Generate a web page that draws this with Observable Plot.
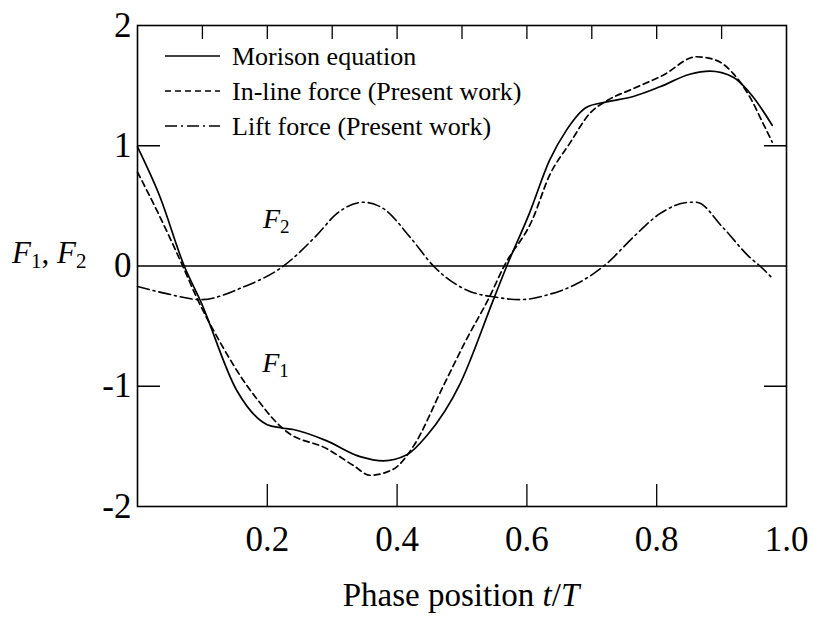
<!DOCTYPE html>
<html>
<head>
<meta charset="utf-8">
<script src="https://cdn.jsdelivr.net/npm/d3@7"></script>
<script src="https://cdn.jsdelivr.net/npm/@observablehq/plot@0.6"></script>
<style>
  body { margin: 0; background: #fff; }
  #chart svg { display: block; }
</style>
</head>
<body>
<div id="chart"></div>
<script>
// Morison equation (in-line force F1)
const morisonPhase = [0.0, 0.035, 0.072, 0.097, 0.153, 0.2, 0.22, 0.24, 0.29, 0.343, 0.379, 0.415, 0.446, 0.497, 0.548, 0.569, 0.604, 0.635, 0.661, 0.692, 0.723, 0.764, 0.805, 0.851, 0.882, 0.918, 0.948, 0.978];
const morisonForce = [0.99, 0.57, 0.0, -0.29, -1.035, -1.32, -1.345, -1.36, -1.45, -1.585, -1.62, -1.57, -1.41, -0.98, -0.286, 0.0, 0.44, 0.88, 1.13, 1.32, 1.365, 1.41, 1.49, 1.595, 1.62, 1.57, 1.41, 1.17];

// In-line force, present work (F1)
const inlinePhase = [0.0, 0.03, 0.0697, 0.091, 0.13, 0.168, 0.189, 0.207, 0.228, 0.292, 0.333, 0.358, 0.394, 0.425, 0.471, 0.505, 0.543, 0.565, 0.608, 0.635, 0.666, 0.697, 0.725, 0.764, 0.81, 0.861, 0.892, 0.918, 0.943, 0.964, 0.978];
const inlineForce = [0.78, 0.46, 0.0, -0.26, -0.66, -0.99, -1.14, -1.26, -1.37, -1.52, -1.66, -1.74, -1.69, -1.5, -1.0, -0.63, -0.25, 0.0, 0.38, 0.755, 1.02, 1.27, 1.38, 1.475, 1.587, 1.74, 1.71, 1.6, 1.41, 1.185, 1.03];

// Lift force, present work (F2)
const liftPhase = [0.0, 0.045, 0.097, 0.163, 0.225, 0.276, 0.307, 0.348, 0.379, 0.42, 0.456, 0.507, 0.553, 0.589, 0.635, 0.676, 0.723, 0.764, 0.805, 0.851, 0.861, 0.902, 0.943, 0.959, 0.979];
const liftForce = [-0.17, -0.23, -0.28, -0.175, 0.0, 0.255, 0.435, 0.53, 0.477, 0.24, 0.0, -0.2, -0.26, -0.28, -0.235, -0.15, 0.02, 0.24, 0.435, 0.53, 0.53, 0.32, 0.074, 0.0, -0.106];

// Axis ticks
const xTickLabels = [0.2, 0.4, 0.6, 0.8, 1.0];
const xTicksBottom = [0.2, 0.4, 0.6, 0.8];
const xTicksTop = [0.1, 0.2, 0.3, 0.4, 0.5, 0.6, 0.7, 0.8, 0.9];
const yTickLabels = [2, 1, 0, -1, -2];
const yTicksSide = [1, -1];

// Legend entries and curve labels
const seriesNames = ["Morison equation", "In-line force (Present work)", "Lift force (Present work)"];
const curveLabels = [
  {name: "F", sub: "2", t: 0.194, f: 0.31},
  {name: "F", sub: "1", t: 0.193, f: -0.885}
];

const toRows = (ts, fs) => ts.map((t, i) => ({t, f: fs[i]}));
const morison = toRows(morisonPhase, morisonForce);
const inline = toRows(inlinePhase, inlineForce);
const lift = toRows(liftPhase, liftForce);

const W = 813, H = 617;
const mL = 137, mR = 27, mT = 25, mB = 111;
const innerW = W - mL - mR, innerH = H - mT - mB;
const serif = "'Liberation Serif', 'Times New Roman', serif";
const dashed = "6,4";
const dashDot = "12,4,2,4";

const plot = Plot.plot({
  width: W,
  height: H,
  marginLeft: mL,
  marginRight: mR,
  marginTop: mT,
  marginBottom: mB,
  style: {fontFamily: serif, background: "white", color: "black"},
  x: {domain: [0, 1]},
  y: {domain: [-2, 2]},
  marks: [
    Plot.ruleY([0], {stroke: "black", strokeWidth: 1.3}),
    Plot.tickX(xTicksTop, {x: d => d, insetBottom: innerH - 14, stroke: "black", strokeWidth: 1.3}),
    Plot.tickX(xTicksBottom, {x: d => d, insetTop: innerH - 22, stroke: "black", strokeWidth: 1.3}),
    Plot.tickY(yTicksSide, {y: d => d, insetRight: innerW - 23, stroke: "black", strokeWidth: 1.5}),
    Plot.tickY(yTicksSide, {y: d => d, insetLeft: innerW - 22, stroke: "black", strokeWidth: 1.5}),
    Plot.line(morison, {x: "t", y: "f", curve: "monotone-x", stroke: "black", strokeWidth: 1.7}),
    Plot.line(inline, {x: "t", y: "f", curve: "monotone-x", stroke: "black", strokeWidth: 1.7, strokeDasharray: dashed}),
    Plot.line(lift, {x: "t", y: "f", curve: "monotone-x", stroke: "black", strokeWidth: 1.6, strokeDasharray: dashDot}),
    Plot.frame({stroke: "black", strokeWidth: 1.6}),
    Plot.axisX({ticks: xTickLabels, tickSize: 0, tickPadding: 20, tickFormat: d3.format(".1f"), fontSize: 35, label: null}),
    Plot.axisY({ticks: yTickLabels, tickSize: 0, tickPadding: 6, tickFormat: d => String(d), fontSize: 35, label: null})
  ]
});

document.getElementById("chart").appendChild(plot);

const svg = d3.select(plot);
const xs = plot.scale("x"), ys = plot.scale("y");

const serifText = sel => sel
  .style("font-family", serif)
  .attr("text-anchor", "start")
  .attr("fill", "black");

// Legend in the upper-left corner of the frame
const legendStyles = [null, dashed, dashDot];
const legend = svg.append("g");
seriesNames.forEach((name, i) => {
  const y = 56 + i * 35;
  legend.append("line")
    .attr("x1", 165).attr("x2", 220).attr("y1", y).attr("y2", y)
    .attr("stroke", "black").attr("stroke-width", 1.6)
    .attr("stroke-dasharray", legendStyles[i]);
  legend.append("text").call(serifText).style("font-size", "26px")
    .attr("x", 232).attr("y", y + 9).text(name);
});

// Curve labels F1 and F2
curveLabels.forEach(d => {
  const t = svg.append("text").call(serifText).style("font-size", "28px")
    .attr("x", xs.apply(d.t)).attr("y", ys.apply(d.f));
  t.append("tspan").attr("font-style", "italic").text(d.name);
  t.append("tspan").style("font-size", "19px").attr("dy", 5).text(d.sub);
});

// Y axis title: F1, F2
const yTitle = svg.append("text").call(serifText).style("font-size", "31px")
  .attr("x", 12).attr("y", 263);
yTitle.append("tspan").attr("font-style", "italic").text("F");
yTitle.append("tspan").style("font-size", "21px").attr("dy", 5).text("1");
yTitle.append("tspan").attr("dy", -5).text(", ");
yTitle.append("tspan").attr("font-style", "italic").text("F");
yTitle.append("tspan").style("font-size", "21px").attr("dy", 5).text("2");

// X axis title: Phase position t/T
const xTitle = svg.append("text").call(serifText).style("font-size", "33px")
  .attr("text-anchor", "middle")
  .attr("x", 461).attr("y", 606);
xTitle.append("tspan").text("Phase position ");
xTitle.append("tspan").attr("font-style", "italic").text("t");
xTitle.append("tspan").text("/");
xTitle.append("tspan").attr("font-style", "italic").text("T");
</script>
</body>
</html>
